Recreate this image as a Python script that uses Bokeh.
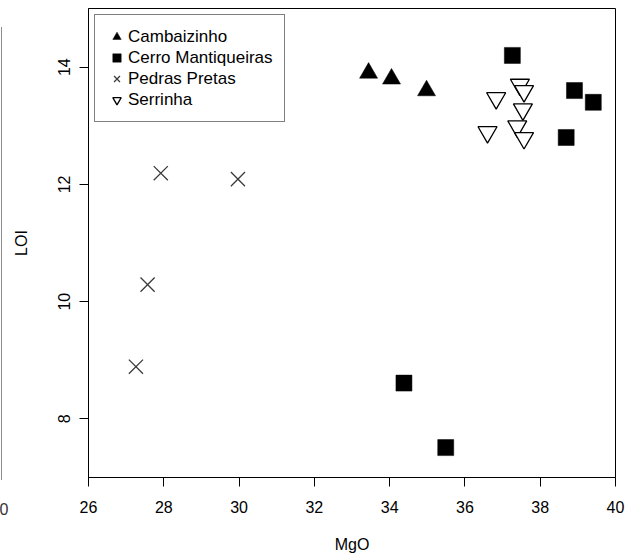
from bokeh.plotting import figure
from bokeh.layouts import row
from bokeh.models import Div
from bokeh.embed import file_html
from bokeh.resources import INLINE

# ---- data ----
groups = ["Cambaizinho", "Cerro Mantiqueiras", "Pedras Pretas", "Serrinha"]

camb_mgo = [33.44, 34.05, 34.98]
camb_loi = [13.90, 13.80, 13.60]

cerro_mgo = [37.26, 38.91, 39.41, 38.69, 34.38, 35.49]
cerro_loi = [14.20, 13.60, 13.40, 12.80, 8.61, 7.51]

pedras_mgo = [27.92, 29.97, 27.57, 27.26]
pedras_loi = [12.19, 12.09, 10.29, 8.89]

serr_mgo = [37.46, 37.57, 36.83, 37.54, 37.39, 36.60, 37.57]
serr_loi = [13.70, 13.59, 13.47, 13.28, 12.99, 12.89, 12.79]

x_ticks = [26, 28, 30, 32, 34, 36, 38, 40]
y_ticks = [8, 10, 12, 14]

FONT = "Liberation Sans"

p = figure(width=624, height=556, x_range=(26, 40), y_range=(7, 15),
           output_backend="svg", toolbar_location=None,
           min_border_left=78, min_border_right=18,
           min_border_top=8, min_border_bottom=79)
p.grid.visible = False
p.outline_line_color = "black"
p.outline_line_width = 1
p.background_fill_color = "white"
p.border_fill_color = "white"

p.xaxis.ticker = x_ticks
p.yaxis.ticker = y_ticks
for ax in (p.xaxis, p.yaxis):
    ax.major_tick_in = 0
    ax.major_tick_out = 9
    ax.minor_tick_line_color = None
    ax.axis_line_color = "black"
    ax.major_tick_line_color = "black"
    ax.major_label_text_font = FONT
    ax.major_label_text_font_size = "16px"
    ax.major_label_text_color = "black"
    ax.axis_label_text_font = FONT
    ax.axis_label_text_font_size = "16px"
    ax.axis_label_text_font_style = "normal"
    ax.axis_label_text_color = "black"

p.xaxis.axis_label = "MgO"
p.xaxis.major_label_standoff = 14
p.xaxis.axis_label_standoff = 20
p.yaxis.axis_label = "LOI"
p.yaxis.major_label_orientation = "vertical"
p.yaxis.major_label_standoff = 10
p.yaxis.axis_label_standoff = 25

p.scatter(camb_mgo, camb_loi, marker="triangle", size=18,
          fill_color="black", line_color="black", line_width=0.5,
          legend_label=groups[0])
p.scatter(cerro_mgo, cerro_loi, marker="square", size=16,
          fill_color="black", line_color="black", line_width=0.5,
          legend_label=groups[1])
p.scatter(pedras_mgo, pedras_loi, marker="x", size=20,
          line_color="#3a3a3a", line_width=1.3,
          legend_label=groups[2])
p.scatter(serr_mgo, serr_loi, marker="inverted_triangle", size=19,
          fill_color="white", line_color="black", line_width=1.3,
          legend_label=groups[3])

lg = p.legend[0]
lg.location = "top_left"
lg.margin = 6
lg.padding = 11
lg.spacing = 0
lg.glyph_width = 21
lg.glyph_height = 21
lg.label_height = 21
lg.label_standoff = 1
lg.label_text_font = FONT
lg.label_text_font_size = "17px"
lg.label_text_color = "black"
lg.border_line_color = "black"
lg.border_line_width = 1
lg.background_fill_color = "white"
lg.background_fill_alpha = 1.0

# cut-off edge of a neighbouring panel at the far left of the image
edge_html = (
    '<div style="position:relative;width:9px;height:556px;overflow:hidden;background:white;">'
    '<div style="position:absolute;left:0.5px;top:27px;width:1.5px;height:453px;background:#8c8c8c;"></div>'
    '<div style="position:absolute;left:-0.5px;top:500px;font-family:\'Liberation Sans\';'
    'font-size:16px;line-height:20px;color:#333333;">0</div>'
    '</div>'
)
s = Div(text=edge_html, width=9, height=556, margin=0)

layout = row(s, p)
open("out.html", "w").write(file_html(layout, INLINE))
